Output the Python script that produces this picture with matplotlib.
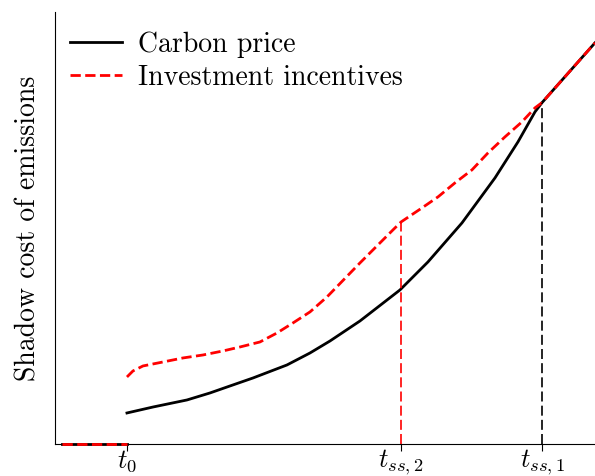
import matplotlib
matplotlib.use('Agg')
import matplotlib.pyplot as plt

plt.rcParams['font.family'] = 'serif'
plt.rcParams['font.serif'] = ['cmr10']
plt.rcParams['mathtext.fontset'] = 'cm'
plt.rcParams['axes.formatter.use_mathtext'] = True

# key times
t0 = 1.333
t_ss2 = 6.41
t_ss1 = 9.02

# before t0 both are zero
t_pre = [0.13, t0]
zero_pre = [0, 0]

# carbon price
t_price = [1.333, 1.815, 2.444, 2.870, 3.241, 3.667, 4.296, 4.722, 5.093, 5.648,
           6.389, 6.907, 7.537, 8.148, 8.574, 8.889, t_ss1, 10.0]
price = [7.18, 8.56, 10.19, 11.81, 13.43, 15.28, 18.29, 21.06, 23.84, 28.47,
         35.65, 42.13, 51.16, 61.57, 69.91, 76.85, 79.0, 92.82]

# investment incentives
t_inv = [1.333, 1.444, 1.630, 2.000, 2.370, 2.741, 3.111, 3.426, 3.796, 4.111,
         4.407, 4.722, 5.037, 5.648, 6.259, t_ss2, 6.796, 7.093, 7.407, 7.722,
         8.019, 8.333, 8.648, 8.889, t_ss1, 10.0]
invest = [15.51, 16.90, 18.06, 18.98, 19.91, 20.60, 21.53, 22.45, 23.61, 25.69,
          28.01, 30.56, 34.03, 41.90, 49.54, 51.39, 54.63, 57.18, 60.42, 63.43,
          67.36, 71.06, 74.54, 77.78, 79.0, 92.82]

tick_pos = [t0, t_ss2, t_ss1]
tick_labels = [r'$t_0$', r'$t_{ss,2}$', r'$t_{ss,1}$']

fig = plt.figure(figsize=(5.95, 4.76), dpi=100)
ax = fig.add_axes([0.0924, 0.0672, 0.9076, 0.908])

ax.plot(t_pre, zero_pre, color='black', lw=2, clip_on=False, zorder=3)
ax.plot(t_pre, zero_pre, color='red', lw=2, ls='--', clip_on=False, zorder=4)
ax.plot(t_price, price, color='black', lw=2, label='Carbon price')
ax.plot(t_inv, invest, color='red', lw=2, ls='--', label='Investment incentives')

ax.plot([t_ss2, t_ss2], [0, invest[t_inv.index(t_ss2)]], color='red', lw=1.2, ls=(0, (6, 2.5)))
ax.plot([t_ss1, t_ss1], [0, price[t_price.index(t_ss1)]], color='black', lw=1.2, ls=(0, (6, 2.5)))

ax.set_xlim(0, 10)
ax.set_ylim(0, 100)
ax.spines['top'].set_visible(False)
ax.spines['right'].set_visible(False)
ax.set_yticks([])
ax.set_xticks(tick_pos)
ax.set_xticklabels(tick_labels, fontsize=19)
ax.tick_params(axis='x', length=5, pad=-2)
ax.set_ylabel('Shadow cost of emissions', fontsize=20, labelpad=10)

ax.legend(loc='upper left', bbox_to_anchor=(-0.009, 1.0), frameon=False, fontsize=20,
          handlelength=1.9, handletextpad=0.55, labelspacing=0.25, borderaxespad=0.3)

fig.savefig('out.png', dpi=100)
